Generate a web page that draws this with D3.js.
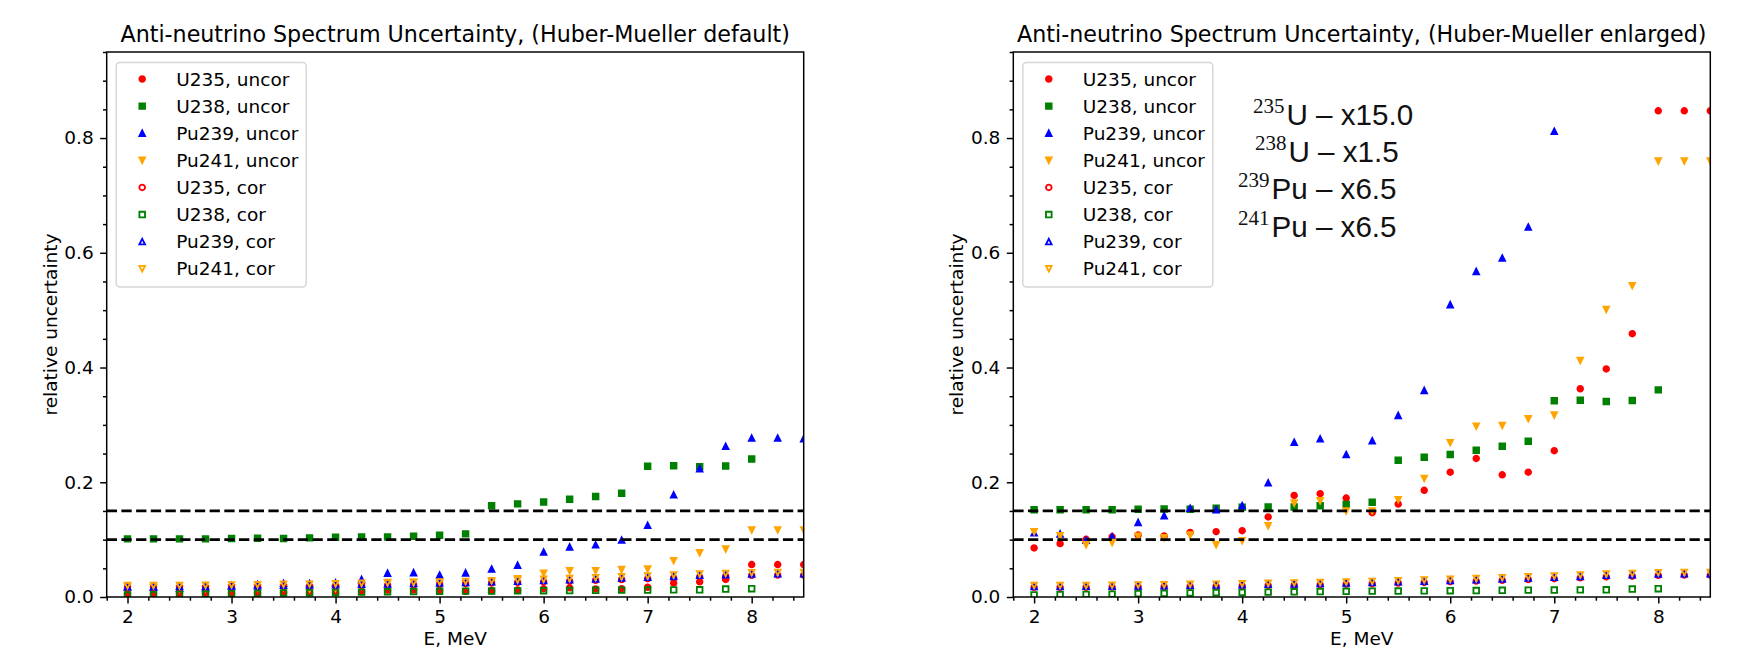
<!DOCTYPE html>
<html>
<head>
<meta charset="utf-8">
<script src="https://cdn.jsdelivr.net/npm/d3@7/dist/d3.min.js"></script>
<style>
  body { margin: 0; background: #fff; }
  svg text { font-family: "DejaVu Sans", sans-serif; fill: #000; }
</style>
</head>
<body>
<div id="chartDiv"></div>
<script>
/******************************
 * data
 *******************************/
const energies = [2.00, 2.25, 2.50, 2.75, 3.00, 3.25, 3.50, 3.75, 4.00, 4.25, 4.50, 4.75, 5.00, 5.25,
    5.50, 5.75, 6.00, 6.25, 6.50, 6.75, 7.00, 7.25, 7.50, 7.75, 8.00, 8.25, 8.50];

// uncorrelated parts (default size)
const u235Uncor = [0.0057, 0.0062, 0.0067, 0.0070, 0.0072, 0.0071, 0.0075, 0.0076, 0.0077, 0.0093,
    0.0118, 0.0120, 0.0115, 0.0098, 0.0108, 0.0124, 0.0145, 0.0161, 0.0142, 0.0145, 0.0170, 0.0242,
    0.0265, 0.0306, 0.0565, 0.0565, 0.0565];
const u238Uncor = [0.1013, 0.1013, 0.1013, 0.1013, 0.1019, 0.1023, 0.1020, 0.1031, 0.1043, 0.1047,
    0.1047, 0.1060, 0.1076, 0.1100, 0.1590, 0.1623, 0.1655, 0.1705, 0.1752, 0.1810, 0.2280, 0.2287,
    0.2273, 0.2283, 0.2407];
const pu239Uncor = [0.0172, 0.0169, 0.0152, 0.0162, 0.0200, 0.0218, 0.0238, 0.0234, 0.0245, 0.0306,
    0.0415, 0.0424, 0.0382, 0.0419, 0.0487, 0.0554, 0.0784, 0.0873, 0.0909, 0.0992, 0.1249, 0.1780,
    0.2236, 0.2626, 0.2770, 0.2770, 0.2760];
const pu241Uncor = [0.0175, 0.0164, 0.0140, 0.0146, 0.0163, 0.0159, 0.0166, 0.0140, 0.0151, 0.0191,
    0.0252, 0.0258, 0.0231, 0.0231, 0.0261, 0.0318, 0.0414, 0.0458, 0.0460, 0.0478, 0.0488, 0.0634,
    0.0771, 0.0835, 0.1169, 0.1169, 0.1169];

// correlated parts
const u235Cor = [0.0168, 0.0169, 0.0170, 0.0173, 0.0177, 0.0181, 0.0186, 0.0190, 0.0195, 0.0202,
    0.0209, 0.0215, 0.0223, 0.0232, 0.0244, 0.0254, 0.0266, 0.0278, 0.0292, 0.0305, 0.0319, 0.0334,
    0.0352, 0.0363, 0.0378, 0.0382, 0.0381];
const u238Cor = [0.0035, 0.0040, 0.0045, 0.0050, 0.0058, 0.0064, 0.0070, 0.0075, 0.0080, 0.0085,
    0.0090, 0.0095, 0.0100, 0.0102, 0.0104, 0.0107, 0.0110, 0.0112, 0.0117, 0.0120, 0.0122, 0.0124,
    0.0126, 0.0138, 0.0145];
const pu239Cor = [0.0183, 0.0184, 0.0185, 0.0188, 0.0193, 0.0197, 0.0203, 0.0207, 0.0212, 0.0220,
    0.0228, 0.0234, 0.0243, 0.0252, 0.0265, 0.0275, 0.0288, 0.0300, 0.0315, 0.0329, 0.0343, 0.0359,
    0.0377, 0.0388, 0.0402, 0.0405, 0.0404];
const pu241Cor = [0.0199, 0.0199, 0.0200, 0.0204, 0.0210, 0.0213, 0.0221, 0.0224, 0.0230, 0.0239,
    0.0246, 0.0252, 0.0262, 0.0272, 0.0285, 0.0296, 0.0309, 0.0322, 0.0338, 0.0352, 0.0367, 0.0384,
    0.0402, 0.0412, 0.0425, 0.0428, 0.0426];

const isotopeMass = ["235", "238", "239", "241"];
const isotopeSymbol = ["U", "U", "Pu", "Pu"];
const enlargeFactors = [15.0, 1.5, 6.5, 6.5];   // applied to uncor only, right panel
const refLines = [0.10, 0.15];
const xTicks = [2, 3, 4, 5, 6, 7, 8];
const yTicks = [0.0, 0.2, 0.4, 0.6, 0.8];
const panelTitles = ["Anti-neutrino Spectrum Uncertainty, (Huber-Mueller default)",
    "Anti-neutrino Spectrum Uncertainty, (Huber-Mueller enlarged)"];

const series = [
    { label: "U235, uncor", values: u235Uncor, iso: 0, color: "#ff0000", shape: "o", filled: true },
    { label: "U238, uncor", values: u238Uncor, iso: 1, color: "#008000", shape: "s", filled: true },
    { label: "Pu239, uncor", values: pu239Uncor, iso: 2, color: "#0000ff", shape: "^", filled: true },
    { label: "Pu241, uncor", values: pu241Uncor, iso: 3, color: "#ffa500", shape: "v", filled: true },
    { label: "U235, cor", values: u235Cor, iso: 0, color: "#ff0000", shape: "o", filled: false },
    { label: "U238, cor", values: u238Cor, iso: 1, color: "#008000", shape: "s", filled: false },
    { label: "Pu239, cor", values: pu239Cor, iso: 2, color: "#0000ff", shape: "^", filled: false },
    { label: "Pu241, cor", values: pu241Cor, iso: 3, color: "#ffa500", shape: "v", filled: false }
];

/******************************
 * layout
 *******************************/
const W = 1740, H = 650;
const axTop = 52, axW = 697, axH = 545;
const panelLeft = [106.7, 1013.3];
const lw = 1.48, ms = 5.6, mew = 1.85;
const fs = 18.5;

const x = d3.scaleLinear().domain([1.8, 8.5]).range([0, axW]);
const y = d3.scaleLinear().domain([0, 0.95]).range([axH, 0]);

const xMinor = d3.range(1.8, 8.5001, 0.2).filter(v => Math.abs(v - Math.round(v)) > 1e-6);
const yMinor = d3.range(0.05, 0.951, 0.05).filter(v => Math.abs(v * 5 - Math.round(v * 5)) > 1e-6);

function markerPath(shape, s) {
    const h = s / 2;
    if (shape === "o") return `M${h},0A${h},${h},0,1,1,${-h},0A${h},${h},0,1,1,${h},0Z`;
    if (shape === "s") return `M${-h},${-h}H${h}V${h}H${-h}Z`;
    if (shape === "^") return `M0,${-h}L${h},${h}L${-h},${h}Z`;
    return `M0,${h}L${h},${-h}L${-h},${-h}Z`;
}

const svg = d3.select("#chartDiv")
    .append("svg")
    .attr("width", W)
    .attr("height", H);

function drawPanel(p, enlarged) {
    const g = svg.append("g")
        .attr("transform", "translate(" + panelLeft[p] + "," + axTop + ")");

    g.append("clipPath").attr("id", "clip" + p)
        .append("rect").attr("width", axW).attr("height", axH);

    const plot = g.append("g").attr("clip-path", "url(#clip" + p + ")");

    series.forEach(s => {
        const k = (enlarged && s.filled) ? enlargeFactors[s.iso] : 1;
        const pts = s.values.map((v, i) => [energies[i], v * k]);
        plot.append("g").selectAll("path")
            .data(pts)
            .join("path")
            .attr("transform", d => "translate(" + x(d[0]) + "," + y(d[1]) + ")")
            .attr("d", markerPath(s.shape, ms))
            .attr("fill", s.filled ? s.color : "none")
            .attr("stroke", s.color)
            .attr("stroke-width", mew);
    });

    // horizontal reference lines
    plot.selectAll("line.ref")
        .data(refLines)
        .join("line")
        .attr("class", "ref")
        .attr("x1", 0).attr("x2", axW)
        .attr("y1", d => y(d)).attr("y2", d => y(d))
        .attr("stroke", "#000")
        .attr("stroke-width", 2.8)
        .attr("stroke-dasharray", "10.3,4.4");

    // axes
    const styleAxis = a => {
        a.select(".domain").remove();
        a.selectAll("line").attr("stroke", "#000").attr("stroke-width", lw);
        a.selectAll("text").attr("font-size", fs).attr("font-family", "DejaVu Sans").attr("fill", "#000");
    };
    g.append("g").attr("transform", "translate(0," + axH + ")")
        .call(d3.axisBottom(x).tickValues(xTicks).tickSize(6.5).tickPadding(6.5).tickFormat(d3.format("d")))
        .call(styleAxis);
    g.append("g").attr("transform", "translate(0," + axH + ")")
        .call(d3.axisBottom(x).tickValues(xMinor).tickSize(3.7).tickFormat(""))
        .call(styleAxis);
    g.append("g")
        .call(d3.axisLeft(y).tickValues(yTicks).tickSize(6.5).tickPadding(6.5).tickFormat(d3.format(".1f")))
        .call(styleAxis);
    g.append("g")
        .call(d3.axisLeft(y).tickValues(yMinor).tickSize(3.7).tickFormat(""))
        .call(styleAxis);

    g.append("rect")
        .attr("width", axW).attr("height", axH)
        .attr("fill", "none").attr("stroke", "#000").attr("stroke-width", lw);

    g.append("text")
        .attr("x", axW / 2).attr("y", -10)
        .attr("text-anchor", "middle")
        .attr("font-size", 22.2)
        .text(panelTitles[p]);

    // x label sits right at the bottom edge, as in the original figure
    g.append("text")
        .attr("x", axW / 2).attr("y", axH + 48)
        .attr("text-anchor", "middle")
        .attr("font-size", fs)
        .text("E, MeV");

    g.append("text")
        .attr("transform", "translate(-50," + (axH / 2) + ") rotate(-90)")
        .attr("text-anchor", "middle")
        .attr("font-size", fs)
        .text("relative uncertainty");

    // legend
    const leg = g.append("g").attr("transform", "translate(9.5,10.5)");
    leg.append("rect")
        .attr("width", 190).attr("height", 224.5)
        .attr("rx", 3.7)
        .attr("fill", "#fff").attr("fill-opacity", 0.8)
        .attr("stroke", "#ccc").attr("stroke-opacity", 0.8).attr("stroke-width", lw);
    const rows = leg.selectAll("g.row")
        .data(series)
        .join("g")
        .attr("class", "row")
        .attr("transform", (d, i) => "translate(0," + (16.5 + i * 27.1) + ")");
    rows.append("path")
        .attr("transform", "translate(26,0)")
        .attr("d", d => markerPath(d.shape, ms))
        .attr("fill", d => d.filled ? d.color : "none")
        .attr("stroke", d => d.color)
        .attr("stroke-width", mew);
    rows.append("text")
        .attr("x", 60)
        .attr("dy", "0.36em")
        .attr("font-size", fs)
        .text(d => d.label);

    return g;
}

drawPanel(0, false);
const right = drawPanel(1, true);

// enlargement notes on the right panel
const noteX = [239.7, 241.7, 224.7, 224.7];
const noteY = [73, 109.7, 147, 184.7];
isotopeMass.forEach((m, i) => {
    const t = right.append("text")
        .attr("x", noteX[i]).attr("y", noteY[i])
        .style("fill", "#111");
    t.append("tspan")
        .attr("font-family", "Liberation Serif")
        .attr("font-size", 21)
        .attr("dy", -12)
        .text(m);
    t.append("tspan")
        .attr("font-family", "Liberation Sans")
        .attr("font-size", 29.6)
        .attr("dy", 12)
        .attr("dx", 2)
        .text(isotopeSymbol[i] + " \u2013 x" + enlargeFactors[i].toFixed(1));
});
</script>
</body>
</html>
